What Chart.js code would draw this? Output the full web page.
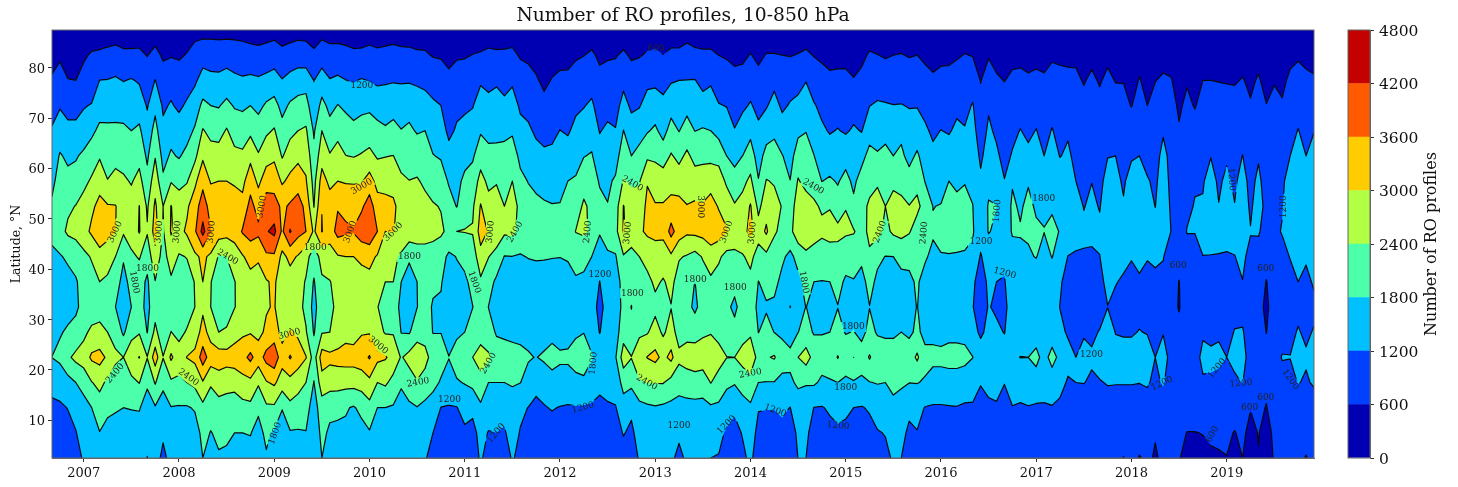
<!DOCTYPE html>
<html>
<head>
<meta charset="utf-8">
<title>Number of RO profiles</title>
<script src="https://cdn.jsdelivr.net/npm/chart.js@4"></script>
<style>
body { margin: 0; background: #fff; width: 1458px; height: 487px; overflow: hidden; position: relative; }
canvas { filter: blur(0.4px); }
#mapChart { position: absolute; left: 0; top: 0; }
#barChart { position: absolute; left: 1340px; top: 0; }
</style>
</head>
<body>
<canvas id="mapChart" width="1366" height="487"></canvas>
<canvas id="barChart" width="118" height="487"></canvas>
<script>
// axis grid: latitude rows north to south, one column per month from Sep 2006
const latitudes = [87.5, 82.5, 77.5, 72.5, 67.5, 62.5, 57.5, 52.5, 47.5, 42.5, 37.5, 32.5, 27.5, 22.5, 17.5, 12.5, 7.5, 2.5];
const startYear = 2006 + 8 / 12;
const levels = [0, 600, 1200, 1800, 2400, 3000, 3600, 4200, 4800];
const bandColors = ['#0000b2', '#0040ff', '#00c0ff', '#4cffaa', '#b2ff43', '#ffcc00', '#ff5a00', '#c40000'];

// number of profiles, each line is one month
const y2006 = [
  [300,450,650,1000,1250,1450,1650,1900,2050,1600,1350,1350,1500,1810,1350,1100,950,850],
  [300,530,800,1150,1500,1850,2050,2150,2200,1750,1500,1500,1750,1950,1350,1150,1050,900],
  [300,460,610,1000,1350,1700,1950,2300,2500,1900,1600,1600,1880,2300,1600,1210,1100,950],
  [300,450,600,1000,1350,1750,2000,2420,2600,2000,1750,1720,1950,2550,1800,1350,1180,1050]
];
const y2007 = [
  [300,540,750,1150,1500,1900,2250,2620,2800,2250,2000,1950,2250,2700,2000,1600,1400,1250],
  [320,650,820,1240,1680,2100,2480,2900,3100,2450,2200,2000,2550,3100,2380,1800,1550,1350],
  [350,670,1205,1550,1925,2340,2800,3150,3350,2800,2400,2150,2570,3200,2550,2150,1780,1650],
  [350,720,1220,1580,1900,2150,2420,3050,3200,2650,2300,2100,2400,2900,2300,1900,1650,1550],
  [350,770,1280,1600,1900,2200,2600,3020,3020,2400,2000,1800,2200,2500,2150,1850,1600,1500],
  [350,690,1180,1560,1900,2150,2500,2750,2480,1850,1650,1550,1700,2400,2050,1800,1600,1500],
  [350,690,1240,1550,1800,2060,2350,2650,2650,2300,1950,1800,2200,2800,2250,1820,1600,1500],
  [350,700,1140,1530,1900,2200,2600,3010,3040,2450,2050,2000,2350,3020,2420,1830,1620,1520],
  [300,580,920,1150,1420,1700,1980,2320,2450,2050,1700,1650,1780,2420,1870,1600,1350,1190],
  [350,740,1215,1650,2020,2360,2770,3100,3250,2800,2380,2150,2550,3300,2450,1750,1550,1450],
  [300,530,820,1120,1320,1620,1900,2400,2350,2150,1950,1900,2000,2420,1900,1600,1300,1050],
  [300,560,1000,1250,1600,1870,2360,3020,3050,2700,2300,2050,2410,3100,2300,1780,1550,1400]
];
const y2008 = [
  [300,540,840,1100,1460,1750,2230,2700,2800,2350,2100,2000,2250,2650,2300,1750,1550,1400],
  [350,630,960,1280,1600,1950,2350,2900,3100,2420,2200,2150,2450,3020,2400,1750,1550,1400],
  [400,830,1110,1500,1870,2250,2860,3350,3500,2900,2420,2400,2700,3150,2550,1850,1550,1400],
  [400,960,1430,1930,2440,2900,3450,3880,4400,3100,3000,2900,3200,3900,2950,2250,1950,1800],
  [400,950,1340,1800,2250,2620,2950,3380,3620,2900,2420,2400,2800,3300,2480,2020,1780,1650],
  [400,910,1340,1760,2200,2630,3000,3250,3300,2350,2100,2050,2400,3300,2720,2150,1900,1750],
  [400,950,1430,1950,2450,2750,3000,3200,3200,2400,2200,2200,2450,3250,2600,2150,1900,1700],
  [400,910,1320,1750,2150,2550,2950,3200,3250,2700,2380,2380,2750,3300,2620,2050,1800,1650],
  [400,850,1270,1700,2120,2500,2850,3180,3650,2950,2650,2600,2900,3400,2800,2200,1800,1650],
  [350,810,1320,1800,2270,2850,3350,3800,3850,3200,2800,2750,2950,3750,2850,2250,1820,1650],
  [350,760,1280,1650,2080,2450,2870,3350,3750,3050,2850,2800,2850,3300,2480,1880,1650,1500],
  [350,840,1350,1880,2300,2780,3300,3950,4150,3500,2950,2950,3100,3800,2950,2300,1900,1750]
];
const y2009 = [
  [400,900,1450,2000,2450,2890,3350,3850,4350,3500,3100,3050,3300,4000,3100,2300,1720,1550],
  [350,740,1230,1620,2000,2350,2920,3480,3500,2850,2600,2550,2800,3250,2700,1820,1600,1450],
  [350,840,1390,1880,2250,2700,3150,3680,4250,3150,2750,2700,3050,3650,2800,2250,1750,1600],
  [400,900,1500,2000,2400,2850,3350,3850,3800,2950,2650,2600,2900,3300,2650,2100,1750,1600],
  [400,850,1550,2030,2480,2820,3050,3450,3600,2600,2350,2250,2450,3030,2400,2000,1780,1550],
  [350,690,1190,1380,1730,1950,2200,2380,2900,2100,1750,1600,1750,2100,1780,1550,1400,1300],
  [400,920,1470,1970,2400,2750,3250,3590,3620,2600,2320,2200,2350,3300,2750,2100,1950,1800],
  [350,810,1230,1650,2000,2450,2850,3300,3300,2700,2380,2300,2400,3150,2650,1950,1700,1600],
  [350,820,1300,1820,2250,2600,3000,3550,3800,2950,2550,2500,2600,3200,2650,1900,1700,1600],
  [350,760,1210,1700,2050,2410,2950,3450,3700,3000,2700,2650,2800,3250,2600,1850,1700,1600],
  [350,690,1160,1580,1950,2370,2950,3350,3650,3000,2700,2650,2750,3250,2600,1750,1550,1500],
  [350,700,1240,1680,2000,2450,2950,3500,3950,3100,2800,2750,2950,3350,2650,1950,1600,1500]
];
const y2010 = [
  [350,770,1180,1680,2100,2550,3250,3900,4100,3150,2850,2750,2950,3650,2850,2200,1750,1500],
  [350,700,1100,1550,1980,2340,2800,3250,3600,2950,2600,2420,2600,3150,2400,1800,1550,1400],
  [350,740,1150,1450,1890,2380,2780,3200,3000,2700,2400,2150,2350,3050,2500,1800,1550,1400],
  [350,790,1160,1580,1980,2410,2810,3100,3020,2550,2400,2100,2350,2800,2200,1750,1500,1400],
  [350,730,1150,1520,1820,2150,2520,2800,2850,2300,1800,1650,1780,2350,1850,1650,1400,1300],
  [350,720,1150,1600,1900,2150,2410,2700,2750,1900,1500,1500,1750,2600,2100,1700,1500,1350],
  [350,670,1120,1460,1750,2130,2450,2700,2700,2100,1800,1790,2100,2850,2350,1780,1500,1300],
  [350,660,1060,1420,1800,2050,2300,2560,2650,2150,2050,2000,2150,2600,2150,1650,1350,1230],
  [300,570,960,1290,1550,1820,2150,2450,2600,2100,1900,1750,1780,2150,1950,1550,1200,1080],
  [300,550,870,1200,1490,1750,2050,2370,2500,2000,1850,1720,1790,2000,1750,1190,950,850],
  [300,480,700,880,1050,1440,1750,2000,2250,1700,1500,1400,1600,1810,1650,1150,900,800],
  [300,550,800,1050,1280,1480,1650,1780,2400,1820,1650,1550,1700,2050,1750,1180,950,850]
];
const y2011 = [
  [300,560,840,1100,1380,1620,1920,2200,2420,1950,1700,1600,1800,2200,1830,1400,1100,950],
  [350,610,900,1170,1440,1720,2050,2300,2450,2050,1950,1790,2000,2400,1950,1350,1000,1000],
  [350,640,1130,1470,1740,2150,2600,3040,3250,2800,2300,2100,2200,2600,2250,1680,1400,1250],
  [350,700,1050,1360,1650,1950,2270,2600,2950,2420,2000,1790,2000,2500,1800,1500,1170,1050],
  [350,670,1130,1400,1650,1960,2350,2700,2850,2150,1700,1650,1750,2050,1800,1400,1200,1050],
  [350,680,990,1330,1670,1980,2170,2400,2500,1780,1650,1600,1700,2050,1800,1350,1150,950],
  [350,710,1120,1430,1720,2100,2400,2800,2550,1790,1550,1500,1700,1950,1850,1550,1400,1250],
  [300,550,860,1120,1360,1650,1950,2150,2200,1750,1500,1450,1650,1950,1810,1300,1170,1050],
  [300,510,770,1020,1300,1550,1780,2000,2050,1830,1450,1400,1650,1850,1600,1190,1000,900],
  [250,470,640,880,1100,1400,1700,1900,1950,1850,1550,1400,1500,1780,1350,1080,900,800],
  [250,420,520,700,1020,1300,1650,1850,1900,1850,1500,1350,1500,1900,1400,1170,950,850],
  [250,450,620,840,1060,1320,1630,1820,1900,1820,1550,1450,1600,2050,1550,1230,1000,900]
];
const y2012 = [
  [250,480,680,950,1210,1450,1680,1820,2000,1810,1550,1450,1550,1900,1550,1180,950,850],
  [250,490,680,900,1130,1480,1800,2000,2100,1850,1600,1500,1600,1900,1550,1150,950,850],
  [300,540,820,1080,1370,1620,1850,2100,2420,1950,1750,1600,1700,2100,1600,1170,950,850],
  [300,590,880,1170,1460,1780,2150,2500,2500,1950,1700,1550,1780,2200,1650,1150,950,850],
  [350,670,950,1300,1550,1850,2050,2250,2300,1800,1550,1500,1550,1850,1500,1130,920,800],
  [300,520,720,920,1170,1430,1750,1950,1850,1500,1190,1000,1180,1550,1300,1100,900,800],
  [300,550,780,1020,1300,1500,1700,1820,1950,1750,1500,1450,1450,1600,1350,1150,950,850],
  [300,570,790,1000,1230,1550,1880,2100,2200,1750,1550,1500,1550,1750,1450,1170,1000,900],
  [350,670,1050,1400,1810,2150,2450,3020,3050,2350,2000,1950,2150,2700,2000,1550,1230,1000],
  [300,540,820,1100,1440,1800,2300,2700,2750,2200,1950,1790,1900,2420,1950,1300,1100,950],
  [300,570,880,1160,1560,2000,2350,2600,2900,2400,2150,2050,2300,2750,2350,1600,1400,1250],
  [350,650,1060,1440,1750,2300,2960,3150,3100,2600,2250,2100,2350,3020,2420,1700,1400,1250]
];
const y2013 = [
  [350,690,1080,1480,1900,2300,2700,3050,3200,2650,2500,2250,2650,3150,2430,1750,1450,1350],
  [300,610,1000,1350,1600,2130,2700,3050,3150,2700,2350,2150,2300,2850,2430,1700,1400,1250],
  [350,700,1150,1580,2020,2450,2770,3200,3800,2900,2550,2380,2650,3150,2200,1650,1350,1250],
  [350,700,1200,1490,1780,2250,2700,3200,3300,2450,2150,2050,2150,2550,2000,1620,1250,1130],
  [400,790,1210,1620,2050,2510,2730,3020,3100,2350,2050,1950,2200,2700,2050,1650,1350,1250],
  [350,710,1220,1500,1790,2230,2650,3100,3150,2200,1790,1700,2100,2800,2100,1650,1350,1250],
  [350,680,1020,1430,1850,2250,2700,3050,3200,2450,2100,2000,2300,2750,2050,1650,1400,1300],
  [350,680,1120,1480,1800,2250,2750,3250,3300,2750,2280,2150,2350,2900,2420,1720,1350,1200],
  [350,600,920,1230,1600,2200,2700,2950,3300,2500,2150,2050,2200,2650,2150,1700,1300,1180],
  [300,550,850,1180,1500,1800,2300,2750,3050,2200,1950,1900,2100,2410,1950,1400,1150,1050],
  [300,520,700,950,1230,1600,2050,2450,2650,2300,1950,1700,1950,2400,1850,1280,1050,1000],
  [300,510,760,1100,1450,1800,2250,2600,2800,2350,2100,2000,2150,2650,2000,1600,1230,1100]
];
const y2014 = [
  [350,620,950,1250,1650,2080,2520,3050,3150,2550,2250,2150,2300,2800,2200,1700,1450,1300],
  [300,510,730,1050,1310,1550,1830,2250,2650,2150,1790,1650,1790,2200,1800,1230,1050,950],
  [350,620,930,1150,1550,2000,2430,2750,3100,2250,1950,1750,1950,2350,1780,1220,1000,900],
  [350,620,1050,1400,1700,2000,2350,2600,2450,2200,1950,1700,1790,2450,1780,1220,1000,900],
  [300,600,900,1100,1450,1820,2080,2370,2300,1900,1650,1550,1700,2050,1650,1300,1050,900],
  [300,580,950,1250,1470,1610,1810,2000,2250,1650,1400,1190,1550,1950,1700,1190,950,850],
  [350,620,1000,1350,1700,2050,2450,2800,2750,2000,1650,1600,1790,2400,1900,1500,1300,1210],
  [350,680,1180,1500,1780,2080,2200,2700,2700,2300,2000,1810,2000,2650,1850,1450,1300,1200],
  [300,580,880,1250,1580,1810,2150,2500,2650,2150,1800,1600,1750,2200,1880,1190,1000,950],
  [300,520,770,1050,1300,1550,1790,2320,2550,2000,1790,1600,1770,2050,1700,1170,950,850],
  [300,480,680,900,1150,1500,1870,2350,2700,2000,1800,1700,1800,2100,1750,1270,1050,950],
  [300,480,700,950,1230,1510,1760,2000,2600,2100,1900,1790,1950,2430,1800,1350,1120,1000]
];
const y2015 = [
  [300,480,700,930,1130,1620,1950,2380,2500,1950,1750,1650,1770,2100,1700,1300,1080,950],
  [250,450,620,950,1280,1500,1700,1900,2450,1950,1780,1650,1820,2400,1750,1200,1000,900],
  [300,500,710,930,1170,1650,2000,2200,2150,1900,1650,1500,1650,2050,1700,1170,1000,900],
  [350,650,950,1190,1600,1950,2200,2500,2550,2300,1950,1790,1950,2450,1780,1250,1050,950],
  [300,610,960,1260,1580,1850,2300,2700,2600,1900,1700,1600,1750,2100,1830,1400,1170,1000],
  [300,560,850,1250,1570,2000,2180,2400,2250,1790,1600,1550,1700,2100,1800,1450,1220,1100],
  [300,600,920,1210,1500,1800,2250,2650,2500,1800,1620,1550,1700,2100,2000,1600,1400,1250],
  [350,620,930,1220,1680,1900,2200,2550,2600,1900,1700,1650,1800,2300,1900,1500,1300,1200],
  [300,570,880,1170,1420,1650,2000,2420,2450,1900,1720,1600,1700,2100,1810,1280,1130,1000],
  [300,600,900,1170,1500,1880,2220,2550,2100,1900,1850,1820,1900,2500,1820,1350,1180,1050],
  [300,510,760,1050,1280,1550,1780,2150,2000,1850,1650,1500,1650,1950,1750,1180,1000,900],
  [250,470,660,840,1110,1320,1550,1790,1850,1700,1550,1500,1650,1950,1550,1150,950,850]
];
const y2016 = [
  [300,500,730,960,1210,1420,1620,1820,1900,1780,1550,1450,1600,1950,1550,1150,950,850],
  [300,510,730,930,1150,1480,1800,1950,1950,1780,1500,1450,1650,2000,1550,1170,950,850],
  [300,550,820,1080,1310,1520,1710,1920,1950,1770,1500,1400,1650,2000,1550,1180,950,850],
  [350,620,830,1030,1240,1500,1780,1920,1950,1750,1450,1400,1650,1950,1500,1130,950,850],
  [300,580,920,1240,1400,1560,1700,1810,1850,1700,1300,1220,1400,1810,1450,1130,950,850],
  [250,430,580,750,900,1100,1300,1400,1450,1150,950,950,1100,1500,1230,1000,900,800],
  [300,560,840,1130,1300,1450,1650,1850,1830,1500,1300,1230,1350,1500,1350,1100,950,850],
  [250,480,650,820,1100,1300,1600,1810,1700,1400,1200,1120,1300,1550,1350,1150,950,850],
  [250,440,590,750,880,1020,1220,1400,1500,1300,1170,1080,1180,1450,1220,950,850,750],
  [250,490,680,870,1060,1250,1750,1900,1850,1600,1500,1450,1550,1700,1450,1180,1000,900],
  [250,500,700,950,1220,1400,1560,1720,1850,1650,1500,1450,1550,1810,1400,1150,950,850],
  [250,480,650,850,1080,1330,1750,1950,1850,1750,1500,1450,1500,1800,1450,1180,950,850]
];
const y2017 = [
  [250,480,700,970,1220,1400,1560,1720,1900,1820,1500,1450,1550,1950,1550,1130,950,850],
  [250,480,650,810,1010,1200,1500,1750,1810,1600,1450,1350,1450,1600,1400,1150,950,850],
  [300,530,780,1000,1230,1420,1580,1750,1900,1820,1500,1400,1500,2000,1500,1170,950,850],
  [300,520,720,880,1020,1180,1500,1700,1780,1500,1250,1190,1300,1650,1350,1100,900,800],
  [300,510,700,920,1130,1300,1500,1550,1450,1190,1050,1000,1150,1350,1150,1000,850,750],
  [300,520,680,840,950,1050,1200,1400,1300,1170,1050,1000,1100,1200,1200,1000,850,750],
  [250,410,570,720,870,950,1050,1180,1300,1150,1050,1000,1150,1350,1210,1000,850,750],
  [250,490,680,800,950,1060,1190,1300,1350,1100,1000,1000,1130,1250,1150,950,850,750],
  [250,410,560,720,870,950,1050,1170,1300,1190,1050,1050,1220,1400,1170,950,850,750],
  [250,500,700,840,1020,1180,1400,1500,1550,1500,1350,1190,1500,1550,1230,1000,850,750],
  [250,410,580,780,990,1200,1400,1550,1500,1400,1220,1100,1180,1400,1220,1000,850,750],
  [250,430,580,740,880,1000,1100,1270,1450,1300,1150,1100,1150,1400,1220,1000,780,590]
];
const y2018 = [
  [250,380,470,580,900,1120,1500,1650,1500,1220,1100,1050,1150,1400,1220,1000,850,750],
  [250,470,620,800,1000,1200,1500,1700,1550,1300,1150,1050,1220,1450,1210,950,750,580],
  [250,390,500,600,850,1000,1250,1450,1500,1220,1100,1050,1170,1450,1250,1000,800,650],
  [250,440,590,720,860,950,1090,1190,1400,1280,1100,1050,1100,1200,1100,950,620,570],
  [250,480,650,890,1130,1400,1500,1550,1500,1220,1100,1050,1170,1450,1250,950,800,650],
  [250,460,620,760,880,1000,1050,1120,1190,950,800,750,850,1000,950,850,750,650],
  [250,380,450,530,640,720,800,860,900,750,590,570,720,850,900,800,700,620],
  [250,420,560,700,820,900,1000,1100,1220,1000,880,850,900,1000,950,800,590,500],
  [250,380,480,570,780,950,1150,1230,1210,1100,950,900,950,1050,950,800,590,500],
  [250,440,600,770,930,1060,1150,1250,1400,1190,1050,950,1150,1300,1150,900,610,500],
  [250,440,600,800,1000,1180,1430,1550,1450,1180,1050,950,1100,1280,1150,850,650,550],
  [250,430,590,730,870,990,1100,1220,1350,1180,1050,950,1150,1280,1100,850,700,550]
];
const y2019 = [
  [250,420,570,780,980,1120,1330,1450,1400,1150,1000,950,1000,1200,1050,850,680,590],
  [250,420,570,720,860,980,1090,1220,1350,1190,1050,1000,1230,1350,1100,800,580,480],
  [250,470,620,820,1010,1210,1450,1550,1420,1300,1190,1000,1250,1400,1220,850,700,600],
  [250,390,530,630,780,900,1000,1100,1230,1050,900,850,900,950,850,620,450,400],
  [250,480,640,830,1000,1130,1350,1500,1250,1000,850,750,850,950,850,700,620,580],
  [250,390,480,610,720,820,900,980,1000,800,580,500,590,800,700,580,420,350],
  [250,430,570,720,830,930,1000,1050,1100,1000,900,850,900,1000,900,800,700,650],
  [250,400,510,640,800,950,1100,1170,1230,1050,950,900,1000,1230,1000,850,750,700],
  [250,500,680,860,1020,1200,1450,1550,1550,1220,1050,1000,1100,1210,1050,850,750,650],
  [300,550,760,980,1220,1400,1550,1600,1550,1350,1200,1100,1230,1350,1220,950,800,700],
  [300,500,680,850,1030,1200,1400,1550,1600,1250,1100,1050,1130,1250,1150,900,750,580],
  [300,480,640,900,1180,1400,1550,1650,1600,1400,1250,1100,1230,1350,1250,1000,850,700]
];
const profiles = [].concat(y2006, y2007, y2008, y2009, y2010, y2011, y2012, y2013, y2014, y2015, y2016, y2017, y2018, y2019);
const monthYears = profiles.map((p, i) => startYear + i / 12);

// inline contour labels
const labelTexts = ['3000','3000','3000','3000','3000','3000','3000','1200','1800','1800','1800','2400','2400','2400','3000','1800','3000',
  '3600','3000','2400','2400','3000','2400','3000','600','1800','1800','2400','2400','1200','1200','1200','1800','1200','1800','2400','1800','1200',
  '3000','3000','2400','2400','2400','1800','1200','1800','1800','1800','1800','2400','1800','1200','1200','1200','1200','1200','1200',
  '1200','600','1200','1200','1200','1200','600','600','600','600'];
const labelYears = [2007.33,2007.79,2007.98,2008.34,2008.87,2009.92,2009.80,2009.92,2009.43,2007.67,2007.53,2007.33,2008.10,2008.51,2009.16,2009.01,2010.09,
  2010.25,2011.27,2011.53,2012.29,2012.71,2012.76,2013.47,2013.01,2010.42,2011.10,2011.25,2010.51,2010.84,2011.33,2012.42,2012.35,2012.24,2012.76,2012.91,2013.42,2013.25,
  2013.75,2014.02,2014.66,2015.36,2015.82,2016.59,2016.42,2017.08,2013.84,2014.56,2015.08,2014.00,2015.00,2013.75,2014.26,2014.92,2016.67,2019.05,2019.60,
  2017.58,2018.49,2018.32,2018.90,2019.15,2019.67,2019.41,2019.41,2019.24,2018.85];
const labelLats = [47.4,47.4,47.4,47.4,52.4,56.4,47.4,76.5,44.2,40.2,37.4,19.3,18.5,42.4,27.1,7.4,24.9,
  47.4,47.4,47.4,47.4,47.2,57.0,52.4,83.8,42.4,37.4,21.3,17.5,14.1,7.4,39.0,21.3,12.5,35.2,17.5,38.0,8.9,
  47.4,47.2,56.4,47.4,47.2,51.6,45.4,54.0,36.4,37.4,28.5,19.3,16.5,9.1,11.9,8.9,39.2,57.8,52.4,
  23.1,40.8,17.3,20.3,17.3,18.1,40.2,14.5,12.5,7.2];
const labelAngles = [-65,-85,-85,-85,-80,-30,-70,0,0,0,80,-50,35,30,-15,-70,40,
  -45,-85,-60,-85,-85,30,90,0,0,70,-60,-10,0,-50,0,-85,-15,0,30,0,0,
  -70,-85,30,-70,-85,-85,0,0,0,80,0,-10,0,-45,20,5,15,85,-90,
  0,0,-25,-50,-5,55,0,0,0,-60];

const serif = '"DejaVu Serif", serif';

// marching squares over one grid cell, returns the filled pieces and the line pieces for a level
function contourCell(pts, vals, level) {
  const inside = vals.map(v => v >= level);
  const cross = (a, b) => {
    const t = (level - vals[a]) / (vals[b] - vals[a]);
    return [pts[a][0] + t * (pts[b][0] - pts[a][0]), pts[a][1] + t * (pts[b][1] - pts[a][1])];
  };
  const edge = [];
  for (let k = 0; k < 4; k++) {
    const n = (k + 1) % 4;
    edge.push(inside[k] !== inside[n] ? cross(k, n) : null);
  }
  const saddle = inside[0] === inside[2] && inside[1] === inside[3] && inside[0] !== inside[1];
  if (saddle) {
    const middle = (vals[0] + vals[1] + vals[2] + vals[3]) / 4;
    const joined = middle >= level;
    if (!joined) {
      const polys = inside[0]
        ? [[pts[0], edge[0], edge[3]], [pts[2], edge[2], edge[1]]]
        : [[pts[1], edge[1], edge[0]], [pts[3], edge[3], edge[2]]];
      return { polys: polys, lines: inside[0] ? [[edge[3], edge[0]], [edge[1], edge[2]]] : [[edge[0], edge[1]], [edge[2], edge[3]]] };
    }
    const poly = [];
    for (let k = 0; k < 4; k++) {
      if (inside[k]) poly.push(pts[k]);
      if (edge[k]) poly.push(edge[k]);
    }
    return { polys: [poly], lines: inside[0] ? [[edge[0], edge[1]], [edge[2], edge[3]]] : [[edge[3], edge[0]], [edge[1], edge[2]]] };
  }
  const poly = [];
  const ends = [];
  for (let k = 0; k < 4; k++) {
    if (inside[k]) poly.push(pts[k]);
    if (edge[k]) { poly.push(edge[k]); ends.push(edge[k]); }
  }
  return { polys: poly.length ? [poly] : [], lines: ends.length === 2 ? [ends] : [] };
}

function addPoly(path, poly) {
  path.moveTo(poly[0][0], poly[0][1]);
  for (let k = 1; k < poly.length; k++) path.lineTo(poly[k][0], poly[k][1]);
  path.closePath();
}

const contourPlugin = {
  id: 'contour',
  beforeDatasetsDraw(chart) {
    const ctx = chart.ctx, area = chart.chartArea;
    const xs = monthYears.map(v => chart.scales.x.getPixelForValue(v));
    const ys = latitudes.map(v => chart.scales.y.getPixelForValue(v));
    const fills = levels.slice(1, -1).map(() => new Path2D());
    const lines = levels.slice(1, -1).map(() => new Path2D());

    for (let i = 0; i < xs.length - 1; i++) {
      for (let j = 0; j < ys.length - 1; j++) {
        const pts = [[xs[i], ys[j]], [xs[i + 1], ys[j]], [xs[i + 1], ys[j + 1]], [xs[i], ys[j + 1]]];
        const vals = [profiles[i][j], profiles[i + 1][j], profiles[i + 1][j + 1], profiles[i][j + 1]];
        for (let l = 1; l < levels.length - 1; l++) {
          const piece = contourCell(pts, vals, levels[l]);
          piece.polys.forEach(p => addPoly(fills[l - 1], p));
          piece.lines.forEach(s => { lines[l - 1].moveTo(s[0][0], s[0][1]); lines[l - 1].lineTo(s[1][0], s[1][1]); });
        }
      }
    }

    ctx.save();
    ctx.fillStyle = bandColors[0];
    ctx.fillRect(area.left, area.top, area.width, area.height);
    fills.forEach((p, l) => { ctx.fillStyle = bandColors[l + 1]; ctx.fill(p); });

    // lines stop around the labels
    const gaps = new Path2D();
    gaps.rect(area.left, area.top, area.width, area.height);
    labelTexts.forEach((txt, n) => {
      const cx = chart.scales.x.getPixelForValue(labelYears[n]);
      const cy = chart.scales.y.getPixelForValue(labelLats[n]);
      const a = labelAngles[n] * Math.PI / 180;
      const hw = txt.length * 3 + 1, hh = 5;
      const corner = (u, v) => [cx + u * Math.cos(a) - v * Math.sin(a), cy + u * Math.sin(a) + v * Math.cos(a)];
      addPoly(gaps, [corner(-hw, -hh), corner(hw, -hh), corner(hw, hh), corner(-hw, hh)]);
    });
    ctx.clip(gaps, 'evenodd');
    ctx.strokeStyle = '#0a0a0a';
    ctx.lineWidth = 1.2;
    ctx.lineCap = 'round';
    lines.forEach(p => ctx.stroke(p));
    ctx.restore();

    ctx.save();
    ctx.font = '9px ' + serif;
    ctx.fillStyle = '#222';
    ctx.textAlign = 'center';
    ctx.textBaseline = 'middle';
    labelTexts.forEach((txt, n) => {
      ctx.save();
      ctx.translate(chart.scales.x.getPixelForValue(labelYears[n]), chart.scales.y.getPixelForValue(labelLats[n]));
      ctx.rotate(labelAngles[n] * Math.PI / 180);
      ctx.fillText(txt, 0, 0);
      ctx.restore();
    });
    ctx.strokeStyle = '#666';
    ctx.lineWidth = 1;
    ctx.strokeRect(area.left, area.top, area.width, area.height);
    ctx.restore();
  }
};

// two line label with a tiny line height, pushes the text down a little to sit level with its tick
const lowered = v => ['', String(v)];

var mapChart = new Chart(document.getElementById('mapChart').getContext('2d'), {
  type: 'scatter',
  data: { datasets: [{ data: [], pointRadius: 0 }] },
  options: {
    responsive: false,
    animation: false,
    plugins: {
      legend: { display: false },
      tooltip: { enabled: false },
      title: {
        display: true,
        text: 'Number of RO profiles, 10-850 hPa',
        color: '#111',
        font: { family: serif, size: 18.7, weight: 'normal', lineHeight: 1.2 },
        padding: { top: 5, bottom: 2.6 }
      }
    },
    scales: {
      x: {
        type: 'linear',
        min: startYear,
        max: monthYears[monthYears.length - 1],
        afterFit: s => { s.height = 29; },
        grid: { drawOnChartArea: false, tickLength: 4, color: '#333' },
        border: { color: '#666' },
        ticks: {
          stepSize: 1, includeBounds: false, autoSkip: false, maxRotation: 0, padding: 4, color: '#111',
          font: { family: serif, size: 13 },
          callback: v => String(v)
        }
      },
      y: {
        type: 'linear',
        min: 2.5,
        max: 87.5,
        afterFit: s => { s.width = 52; },
        grid: { drawOnChartArea: false, tickLength: 4, color: '#333' },
        border: { color: '#666' },
        title: { display: true, text: 'Latitude, °N', color: '#111', font: { family: serif, size: 12.5 }, padding: { top: 9, bottom: 0 } },
        ticks: { stepSize: 10, includeBounds: false, padding: 3, color: '#111', font: { family: serif, size: 13, lineHeight: 0.25 }, callback: lowered }
      },
      // empty axis on the right, keeps the title centred over the plot
      spacer: {
        axis: 'y',
        position: 'right',
        afterFit: s => { s.width = 52; },
        grid: { display: false },
        border: { display: false },
        ticks: { display: false }
      }
    }
  },
  plugins: [contourPlugin]
});

// colour bar, the title reads upwards so it is written by hand
const barTitlePlugin = {
  id: 'barTitle',
  afterDraw(chart) {
    const ctx = chart.ctx;
    ctx.save();
    ctx.font = '16px ' + serif;
    ctx.fillStyle = '#111';
    ctx.textAlign = 'center';
    ctx.textBaseline = 'middle';
    ctx.translate(92, 244);
    ctx.rotate(-Math.PI / 2);
    ctx.fillText('Number of RO profiles', 0, 0);
    ctx.restore();
    const area = chart.chartArea;
    ctx.strokeStyle = '#666';
    ctx.strokeRect(area.left, area.top, area.width, area.height);
  }
};

var barChart = new Chart(document.getElementById('barChart').getContext('2d'), {
  type: 'bar',
  data: {
    labels: [''],
    datasets: bandColors.map((c, n) => ({
      data: [levels[n + 1] - levels[n]],
      backgroundColor: c,
      borderWidth: 0,
      barPercentage: 1,
      categoryPercentage: 1
    }))
  },
  options: {
    responsive: false,
    animation: false,
    layout: { padding: { left: 8, top: 30, bottom: 29, right: 0 } },
    plugins: { legend: { display: false }, tooltip: { enabled: false }, title: { display: false } },
    scales: {
      x: { display: false, stacked: true },
      y: {
        stacked: true,
        position: 'right',
        min: 0,
        max: 4800,
        afterFit: s => { s.width = 88; },
        grid: { drawOnChartArea: false, tickLength: 4, color: '#333' },
        border: { color: '#666' },
        ticks: { stepSize: 600, padding: 5, color: '#111', font: { family: serif, size: 15.5, lineHeight: 0.25 }, callback: lowered }
      }
    }
  },
  plugins: [barTitlePlugin]
});
</script>
</body>
</html>
